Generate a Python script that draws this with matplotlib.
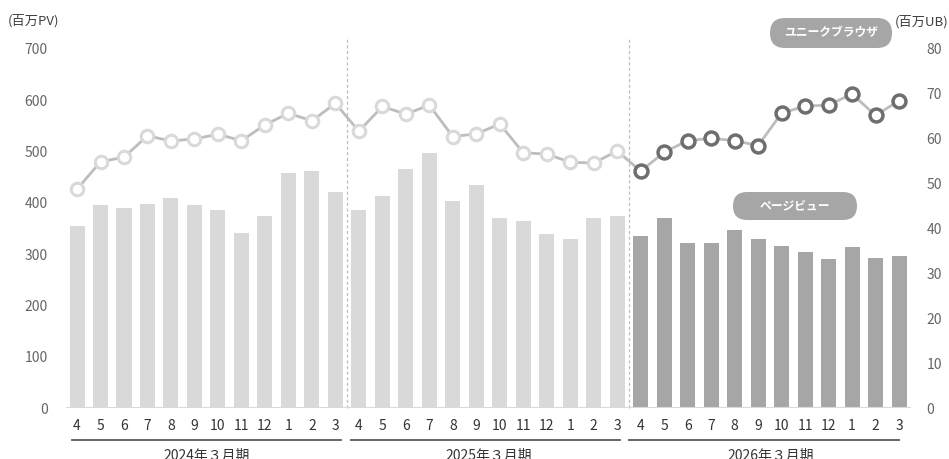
import numpy as np
import matplotlib
matplotlib.use("Agg")
import matplotlib.pyplot as plt
from matplotlib.patches import FancyBboxPatch
from matplotlib.transforms import IdentityTransform

plt.rcParams['font.family'] = ['Noto Sans CJK JP', 'DejaVu Sans']

# data
months = ['4', '5', '6', '7', '8', '9', '10', '11', '12', '1', '2', '3'] * 3
periods = ['2024年３月期', '2025年３月期', '2026年３月期']

pv_2024 = [355, 396, 391, 398, 409, 396, 386, 341, 374, 458, 462, 422]
pv_2025 = [386, 414, 467, 497, 404, 435, 370, 364, 340, 330, 371, 375]
pv_2026 = [336, 370, 323, 322, 348, 329, 316, 305, 291, 314, 292, 297]

ub_2024 = [48.8, 54.9, 55.9, 60.7, 59.5, 60.0, 61.0, 59.6, 63.1, 65.7, 64.0, 67.9]
ub_2025 = [61.7, 67.2, 65.5, 67.5, 60.5, 61.1, 63.3, 56.9, 56.6, 54.8, 54.6, 57.3]
ub_2026 = [52.8, 57.0, 59.6, 60.1, 59.6, 58.5, 65.7, 67.3, 67.5, 70.0, 65.2, 68.5]

pv = np.array(pv_2024 + pv_2025 + pv_2026)
ub = np.array(ub_2024 + ub_2025 + ub_2026)
x = np.arange(len(pv))

W, H = 949, 459
fig = plt.figure(figsize=(W / 100, H / 100), dpi=100)
ax = fig.add_axes([66 / W, 1 - 408.3 / H, (911 - 66) / W, (408.3 - 49) / H])

bar_colors = ['#d9d9d9'] * 24 + ['#a6a6a6'] * 12
ax.bar(x, pv, width=0.64, color=bar_colors, zorder=2)
ax.axhline(0, color='#d9d9d9', lw=1.5, zorder=3)

ax.set_xlim(-0.47, 35.51)
ax.set_ylim(0, 700)
ax.set_yticks(np.arange(0, 701, 100))
ax.set_xticks(x)
ax.set_xticklabels(months)
ax.tick_params(axis='y', length=0, pad=13, labelsize=10, labelcolor='#666666')
ax.tick_params(axis='x', length=0, pad=8, labelsize=10, labelcolor='#333333')
for s in ax.spines.values():
    s.set_visible(False)

# dashed separators between periods
for sep in [11.5, 23.5]:
    ax.plot([sep, sep], [0, 721], color='#bfbfbf', lw=0.9, ls=(0, (2.5, 2)),
            clip_on=False, zorder=1)

# unique browser line
ax2 = ax.twinx()
ax2.set_ylim(0, 80)
ax2.set_yticks(np.arange(0, 81, 10))
ax2.tick_params(axis='y', length=0, pad=11, labelsize=10, labelcolor='#666666')
for s in ax2.spines.values():
    s.set_visible(False)
ax2.plot(x, ub, color='#bdbdbd', lw=2.0, zorder=3)
ax2.plot(x[:24], ub[:24], 'o', ms=9, mfc='white', mec='#d9d9d9', mew=2.2, zorder=4)
ax2.plot(x[24:], ub[24:], 'o', ms=9.3, mfc='white', mec='#6e6e6e', mew=2.5, zorder=4)

# period underlines and labels
for i, name in enumerate(periods):
    x0 = [-0.23, 11.65, 23.51][i]
    ax.plot([x0, x0 + 11.49], [-62, -62], color='#595959', lw=1.3,
            clip_on=False)
    ax.text(12 * i + 5.53, -92, name, ha='center', va='center', fontsize=10,
            color='#333333', clip_on=False)

# unit labels
fig.text(8 / W, 1 - 21 / H, '(百万PV)', ha='left', va='center', fontsize=9.5,
         color='#404040')
fig.text(948 / W, 1 - 21.5 / H, '(百万UB)', ha='right', va='center', fontsize=9.5,
         color='#404040')

# legend pills (pixel coords, top-left origin)
def pill(x0, x1, ytop, ybot, label):
    h = ybot - ytop
    box = FancyBboxPatch((x0, H - ybot), x1 - x0, h,
                         boxstyle='round,pad=0,rounding_size=%f' % (h / 2),
                         transform=IdentityTransform(), fc='#a6a6a6', ec='none',
                         zorder=5)
    fig.patches.append(box)
    fig.text((x0 + x1) / 2 / W, 1 - (ytop + ybot) / 2 / H, label, ha='center',
             va='center', fontsize=8.5, fontweight='bold', color='white', zorder=6)

pill(770, 892, 18, 48, 'ユニークブラウザ')
pill(733, 857, 192, 220, 'ページビュー')

fig.savefig('out.png', dpi=100)
